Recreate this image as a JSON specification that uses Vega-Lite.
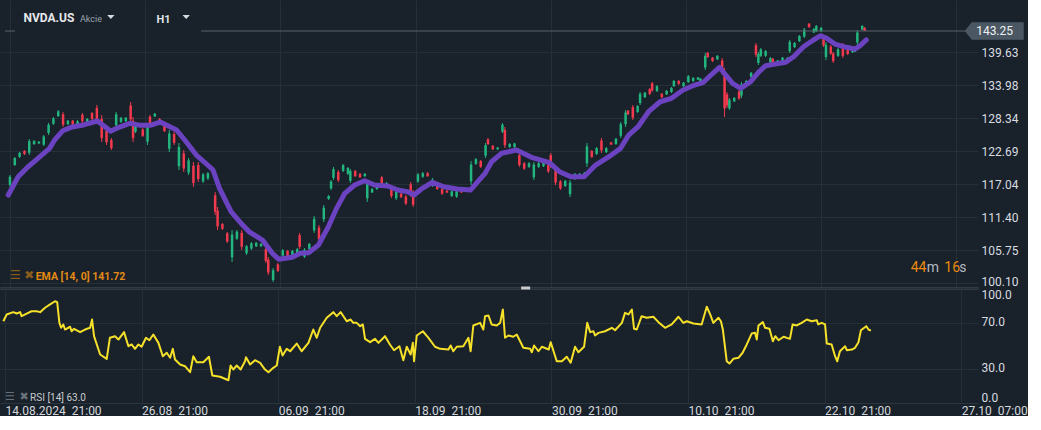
{
  "$schema": "https://vega.github.io/schema/vega-lite/v6.json",
  "padding": 0,
  "bounds": "flush",
  "background": "#19212a",
  "config": {
    "font": "Roboto",
    "view": {"stroke": null},
    "concat": {"spacing": 0},
    "axis": {"gridColor": "#252f38", "gridWidth": 1, "labelColor": "#d5d9dd", "labelFontSize": 12, "ticks": false, "domain": false, "title": null, "minExtent": 0},
    "axisY": {"orient": "right", "grid": true, "labelPadding": 3, "labelColor": "#d8dce0", "labelOverlap": false, "labelBound": false}
  },
  "datasets": {
    "candles": [
      {"i":0,"o":116.9,"h":118.6,"l":116.55,"c":118.3},
      {"i":2,"o":120.3,"h":121.68,"l":120.14,"c":121.5},
      {"i":4,"o":121.7,"h":122.54,"l":121.51,"c":122.4},
      {"i":6,"o":122.7,"h":122.88,"l":122.02,"c":122.2},
      {"i":8,"o":122.4,"h":124.76,"l":122.02,"c":124.4},
      {"i":10,"o":123.9,"h":124.59,"l":123.74,"c":124.4},
      {"i":12,"o":124.0,"h":124.42,"l":123.91,"c":124.3},
      {"i":14,"o":123.8,"h":125.45,"l":123.56,"c":125.2},
      {"i":16,"o":125.8,"h":127.5,"l":125.45,"c":127.2},
      {"i":18,"o":127.4,"h":128.53,"l":127.16,"c":128.3},
      {"i":20,"o":128.7,"h":129.73,"l":128.53,"c":129.5},
      {"i":22,"o":129.0,"h":129.39,"l":126.82,"c":127.2},
      {"i":24,"o":127.3,"h":128.01,"l":127.16,"c":127.9},
      {"i":26,"o":127.9,"h":128.01,"l":127.16,"c":127.3},
      {"i":28,"o":127.0,"h":128.01,"l":126.82,"c":127.8},
      {"i":30,"o":128.9,"h":129.21,"l":127.5,"c":127.8},
      {"i":32,"o":127.6,"h":128.36,"l":127.5,"c":128.2},
      {"i":34,"o":129.2,"h":129.39,"l":128.01,"c":128.2},
      {"i":36,"o":130.1,"h":130.58,"l":127.67,"c":128.1},
      {"i":38,"o":128.2,"h":128.87,"l":124.25,"c":124.9},
      {"i":40,"o":126.2,"h":126.65,"l":123.74,"c":124.2},
      {"i":42,"o":124.6,"h":124.93,"l":122.88,"c":123.2},
      {"i":44,"o":127.1,"h":129.39,"l":126.65,"c":129.0},
      {"i":46,"o":127.7,"h":128.53,"l":127.5,"c":128.4},
      {"i":48,"o":127.8,"h":128.53,"l":127.67,"c":128.4},
      {"i":50,"o":130.5,"h":131.1,"l":127.5,"c":128.1},
      {"i":51,"o":127.9,"h":128.53,"l":124.25,"c":124.9},
      {"i":52,"o":126.0,"h":127.16,"l":125.79,"c":127.0},
      {"i":55,"o":126.4,"h":126.65,"l":125.11,"c":125.3},
      {"i":57,"o":124.3,"h":127.5,"l":123.74,"c":126.9},
      {"i":58,"o":128.6,"h":128.87,"l":127.16,"c":127.4},
      {"i":60,"o":128.6,"h":129.21,"l":128.53,"c":129.1},
      {"i":62,"o":128.2,"h":128.36,"l":127.5,"c":127.6},
      {"i":64,"o":127.0,"h":127.16,"l":125.96,"c":126.1},
      {"i":66,"o":123.1,"h":126.3,"l":122.54,"c":125.7},
      {"i":68,"o":125.6,"h":125.96,"l":123.74,"c":124.1},
      {"i":70,"o":120.1,"h":124.08,"l":119.45,"c":123.4},
      {"i":72,"o":122.3,"h":122.88,"l":119.11,"c":119.7},
      {"i":74,"o":119.0,"h":121.51,"l":118.6,"c":121.1},
      {"i":76,"o":120.2,"h":120.82,"l":116.55,"c":117.2},
      {"i":78,"o":120.3,"h":120.82,"l":117.4,"c":117.9},
      {"i":80,"o":117.5,"h":118.94,"l":117.23,"c":118.7},
      {"i":82,"o":118.0,"h":119.11,"l":117.74,"c":118.9},
      {"i":85,"o":115.1,"h":115.69,"l":111.75,"c":112.3},
      {"i":86,"o":112.5,"h":113.12,"l":109.18,"c":109.8},
      {"i":88,"o":110.2,"h":110.38,"l":109.18,"c":109.4},
      {"i":90,"o":108.6,"h":108.84,"l":106.96,"c":107.2},
      {"i":92,"o":104.5,"h":109.18,"l":103.7,"c":108.4},
      {"i":94,"o":107.7,"h":109.18,"l":107.47,"c":108.9},
      {"i":96,"o":108.7,"h":109.18,"l":105.76,"c":106.3},
      {"i":98,"o":105.2,"h":106.62,"l":104.9,"c":106.4},
      {"i":100,"o":106.0,"h":107.13,"l":105.76,"c":106.9},
      {"i":102,"o":106.4,"h":107.13,"l":106.27,"c":107.0},
      {"i":104,"o":106.4,"h":106.96,"l":106.27,"c":106.8},
      {"i":106,"o":105.9,"h":106.27,"l":103.53,"c":103.9},
      {"i":107,"o":104.1,"h":104.56,"l":101.48,"c":101.9},
      {"i":109,"o":100.6,"h":102.68,"l":100.28,"c":102.3},
      {"i":111,"o":103.3,"h":103.53,"l":101.99,"c":102.2},
      {"i":113,"o":104.8,"h":105.93,"l":104.56,"c":105.7},
      {"i":115,"o":105.6,"h":105.76,"l":104.56,"c":104.7},
      {"i":117,"o":104.9,"h":105.76,"l":104.73,"c":105.6},
      {"i":119,"o":105.2,"h":106.1,"l":105.07,"c":105.9},
      {"i":120,"o":108.3,"h":108.67,"l":105.93,"c":106.3},
      {"i":122,"o":104.6,"h":106.1,"l":104.39,"c":105.8},
      {"i":124,"o":105.9,"h":106.96,"l":105.76,"c":106.8},
      {"i":126,"o":109.1,"h":111.58,"l":108.67,"c":111.1},
      {"i":128,"o":109.6,"h":110.04,"l":107.13,"c":107.6},
      {"i":130,"o":111.0,"h":113.46,"l":110.55,"c":113.0},
      {"i":132,"o":114.5,"h":115.18,"l":114.32,"c":115.0},
      {"i":133,"o":116.3,"h":117.74,"l":116.03,"c":117.5},
      {"i":134,"o":118.1,"h":119.97,"l":117.74,"c":119.6},
      {"i":136,"o":119.1,"h":119.45,"l":117.4,"c":117.7},
      {"i":138,"o":119.3,"h":120.48,"l":119.11,"c":120.3},
      {"i":140,"o":118.8,"h":119.97,"l":118.6,"c":119.8},
      {"i":141,"o":117.6,"h":119.63,"l":117.23,"c":119.3},
      {"i":143,"o":119.3,"h":119.45,"l":118.26,"c":118.4},
      {"i":145,"o":118.8,"h":118.94,"l":118.09,"c":118.2},
      {"i":147,"o":118.4,"h":118.94,"l":118.26,"c":118.8},
      {"i":148,"o":114.6,"h":117.74,"l":113.98,"c":117.1},
      {"i":150,"o":115.6,"h":116.37,"l":115.52,"c":116.2},
      {"i":152,"o":116.2,"h":117.23,"l":116.03,"c":117.0},
      {"i":154,"o":118.2,"h":118.43,"l":116.89,"c":117.1},
      {"i":156,"o":116.7,"h":117.4,"l":116.55,"c":117.2},
      {"i":158,"o":116.5,"h":116.89,"l":114.66,"c":115.0},
      {"i":160,"o":114.6,"h":116.03,"l":114.32,"c":115.8},
      {"i":162,"o":115.4,"h":115.52,"l":114.66,"c":114.8},
      {"i":164,"o":114.9,"h":115.18,"l":113.46,"c":113.7},
      {"i":166,"o":117.0,"h":117.4,"l":114.83,"c":115.2},
      {"i":167,"o":115.6,"h":116.03,"l":113.12,"c":113.5},
      {"i":169,"o":117.5,"h":118.94,"l":117.23,"c":118.7},
      {"i":171,"o":118.3,"h":119.11,"l":118.09,"c":118.9},
      {"i":173,"o":118.9,"h":119.11,"l":118.26,"c":118.4},
      {"i":175,"o":116.8,"h":118.09,"l":116.55,"c":117.8},
      {"i":177,"o":116.9,"h":117.06,"l":116.03,"c":116.2},
      {"i":179,"o":116.2,"h":116.37,"l":115.18,"c":115.4},
      {"i":181,"o":115.9,"h":116.03,"l":115.52,"c":115.6},
      {"i":183,"o":115.0,"h":116.03,"l":114.83,"c":115.8},
      {"i":185,"o":114.9,"h":116.03,"l":114.66,"c":115.8},
      {"i":187,"o":115.9,"h":116.03,"l":115.52,"c":115.6},
      {"i":189,"o":115.8,"h":116.37,"l":115.69,"c":116.3},
      {"i":191,"o":117.5,"h":121.0,"l":116.89,"c":120.4},
      {"i":193,"o":120.5,"h":121.51,"l":120.31,"c":121.3},
      {"i":195,"o":121.0,"h":121.16,"l":119.8,"c":120.0},
      {"i":197,"o":121.9,"h":124.08,"l":121.51,"c":123.7},
      {"i":198,"o":124.7,"h":124.93,"l":123.74,"c":123.9},
      {"i":200,"o":123.6,"h":123.74,"l":122.88,"c":123.0},
      {"i":202,"o":123.0,"h":123.39,"l":122.88,"c":123.3},
      {"i":204,"o":126.0,"h":127.5,"l":125.79,"c":127.2},
      {"i":205,"o":126.3,"h":126.82,"l":123.22,"c":123.7},
      {"i":207,"o":123.4,"h":124.08,"l":123.22,"c":123.9},
      {"i":209,"o":123.4,"h":124.1,"l":123.2,"c":124.0},
      {"i":211,"o":122.0,"h":122.37,"l":119.97,"c":120.3},
      {"i":213,"o":120.6,"h":120.82,"l":119.45,"c":119.7},
      {"i":215,"o":120.0,"h":120.82,"l":119.8,"c":120.6},
      {"i":217,"o":118.2,"h":120.82,"l":117.74,"c":120.4},
      {"i":219,"o":120.0,"h":120.82,"l":119.8,"c":120.6},
      {"i":221,"o":120.1,"h":121.16,"l":119.97,"c":121.0},
      {"i":223,"o":120.4,"h":120.65,"l":118.94,"c":119.2},
      {"i":224,"o":122.0,"h":122.37,"l":119.8,"c":120.2},
      {"i":226,"o":119.5,"h":119.97,"l":116.89,"c":117.3},
      {"i":228,"o":117.5,"h":117.74,"l":116.03,"c":116.3},
      {"i":230,"o":116.7,"h":117.74,"l":116.55,"c":117.6},
      {"i":232,"o":115.3,"h":117.74,"l":114.83,"c":117.3},
      {"i":234,"o":117.9,"h":118.94,"l":117.74,"c":118.8},
      {"i":236,"o":118.2,"h":118.94,"l":118.09,"c":118.8},
      {"i":238,"o":118.4,"h":119.11,"l":118.26,"c":119.0},
      {"i":239,"o":120.6,"h":124.08,"l":119.97,"c":123.5},
      {"i":241,"o":122.7,"h":122.88,"l":121.51,"c":121.7},
      {"i":243,"o":122.2,"h":123.39,"l":122.02,"c":123.2},
      {"i":245,"o":124.5,"h":124.93,"l":122.37,"c":122.8},
      {"i":247,"o":122.5,"h":123.39,"l":122.37,"c":123.2},
      {"i":249,"o":124.2,"h":124.25,"l":123.74,"c":123.8},
      {"i":251,"o":123.9,"h":124.93,"l":123.74,"c":124.8},
      {"i":253,"o":125.3,"h":127.67,"l":124.93,"c":127.3},
      {"i":255,"o":127.3,"h":129.73,"l":126.82,"c":129.3},
      {"i":256,"o":129.6,"h":129.73,"l":128.87,"c":129.0},
      {"i":258,"o":130.2,"h":130.58,"l":128.01,"c":128.4},
      {"i":260,"o":129.4,"h":130.58,"l":129.21,"c":130.4},
      {"i":261,"o":130.9,"h":132.81,"l":130.58,"c":132.5},
      {"i":263,"o":131.9,"h":132.81,"l":131.78,"c":132.7},
      {"i":265,"o":133.3,"h":133.49,"l":132.3,"c":132.5},
      {"i":266,"o":134.3,"h":134.52,"l":132.81,"c":133.1},
      {"i":268,"o":133.0,"h":134.01,"l":132.81,"c":133.8},
      {"i":270,"o":132.5,"h":132.64,"l":131.78,"c":131.9},
      {"i":272,"o":132.4,"h":133.15,"l":132.3,"c":133.0},
      {"i":274,"o":132.8,"h":133.67,"l":132.64,"c":133.5},
      {"i":275,"o":133.8,"h":134.86,"l":133.67,"c":134.7},
      {"i":277,"o":134.7,"h":134.86,"l":134.01,"c":134.2},
      {"i":279,"o":133.8,"h":134.52,"l":133.67,"c":134.4},
      {"i":281,"o":134.5,"h":135.72,"l":134.35,"c":135.5},
      {"i":283,"o":134.7,"h":135.38,"l":134.52,"c":135.2},
      {"i":285,"o":134.9,"h":135.38,"l":134.86,"c":135.3},
      {"i":286,"o":134.6,"h":135.21,"l":134.52,"c":135.1},
      {"i":288,"o":137.0,"h":139.49,"l":136.57,"c":139.0},
      {"i":289,"o":139.5,"h":139.66,"l":138.63,"c":138.8},
      {"i":291,"o":138.7,"h":138.8,"l":137.95,"c":138.1},
      {"i":293,"o":138.4,"h":139.14,"l":138.29,"c":139.0},
      {"i":295,"o":138.2,"h":138.63,"l":135.72,"c":136.2},
      {"i":296,"o":136.0,"h":136.92,"l":128.53,"c":130.0},
      {"i":297,"o":132.4,"h":132.81,"l":130.07,"c":130.5},
      {"i":298,"o":130.0,"h":131.78,"l":129.73,"c":131.5},
      {"i":300,"o":131.2,"h":131.95,"l":131.1,"c":131.8},
      {"i":302,"o":132.9,"h":133.15,"l":131.44,"c":131.7},
      {"i":303,"o":132.2,"h":134.52,"l":131.78,"c":134.1},
      {"i":305,"o":134.1,"h":134.86,"l":134.01,"c":134.7},
      {"i":307,"o":135.4,"h":136.23,"l":135.21,"c":136.1},
      {"i":309,"o":140.8,"h":141.2,"l":138.8,"c":139.2},
      {"i":310,"o":137.8,"h":139.66,"l":137.43,"c":139.3},
      {"i":311,"o":139.0,"h":140.34,"l":138.8,"c":140.1},
      {"i":313,"o":139.0,"h":140.0,"l":138.8,"c":139.8},
      {"i":315,"o":137.9,"h":138.8,"l":137.77,"c":138.6},
      {"i":316,"o":138.5,"h":138.63,"l":137.77,"c":137.9},
      {"i":318,"o":137.9,"h":138.29,"l":137.77,"c":138.2},
      {"i":320,"o":138.1,"h":138.8,"l":137.95,"c":138.7},
      {"i":322,"o":138.1,"h":138.8,"l":137.95,"c":138.6},
      {"i":323,"o":139.8,"h":141.71,"l":139.49,"c":141.4},
      {"i":325,"o":140.5,"h":141.37,"l":140.34,"c":141.2},
      {"i":327,"o":141.5,"h":142.57,"l":141.37,"c":142.4},
      {"i":329,"o":142.3,"h":143.77,"l":142.05,"c":143.5},
      {"i":331,"o":144.5,"h":144.62,"l":143.77,"c":143.9},
      {"i":333,"o":143.0,"h":143.77,"l":142.91,"c":143.6},
      {"i":334,"o":143.2,"h":144.28,"l":143.08,"c":144.1},
      {"i":336,"o":143.2,"h":143.94,"l":143.08,"c":143.8},
      {"i":337,"o":142.0,"h":142.23,"l":140.51,"c":140.8},
      {"i":338,"o":138.8,"h":141.37,"l":138.29,"c":140.9},
      {"i":340,"o":140.6,"h":140.86,"l":139.14,"c":139.4},
      {"i":341,"o":139.4,"h":139.66,"l":137.77,"c":138.1},
      {"i":343,"o":139.0,"h":140.34,"l":138.8,"c":140.1},
      {"i":345,"o":140.8,"h":141.2,"l":138.63,"c":139.0},
      {"i":347,"o":140.2,"h":140.34,"l":139.14,"c":139.3},
      {"i":349,"o":139.6,"h":140.34,"l":139.49,"c":140.2},
      {"i":350,"o":139.7,"h":140.34,"l":139.66,"c":140.2},
      {"i":351,"o":141.3,"h":143.42,"l":140.86,"c":143.0},
      {"i":353,"o":143.5,"h":144.28,"l":143.42,"c":144.1},
      {"i":354,"o":143.8,"h":143.94,"l":143.25,"c":143.25}
    ],
    "ema": [
      {"i":-0.7,"v":115.17},{"i":3.4,"v":118.3},{"i":7.5,"v":120.01},{"i":11.6,"v":121.45},{"i":16.4,"v":123.16},
      {"i":18.5,"v":124.59},{"i":21.9,"v":126.18},{"i":25.3,"v":126.76},{"i":30.8,"v":127.21},{"i":36.2,"v":127.84},
      {"i":39.0,"v":126.98},{"i":41.7,"v":126.08},{"i":45.1,"v":126.76},{"i":49.6,"v":127.45},{"i":54.0,"v":127.1},
      {"i":58.1,"v":127.1},{"i":62.2,"v":127.67},{"i":66.3,"v":126.86},{"i":69.0,"v":126.3},{"i":72.4,"v":124.59},
      {"i":77.2,"v":122.02},{"i":82.7,"v":120.01},{"i":84.1,"v":119.45},{"i":86.8,"v":116.32},{"i":91.6,"v":112.31},
      {"i":96.4,"v":110.03},{"i":99.1,"v":108.88},{"i":104.6,"v":107.46},{"i":108.7,"v":105.18},{"i":111.4,"v":104.16},
      {"i":116.9,"v":104.5},{"i":120.3,"v":105.18},{"i":123.7,"v":105.29},{"i":127.8,"v":106.61},{"i":131.9,"v":109.74},
      {"i":135.3,"v":112.89},{"i":138.7,"v":115.46},{"i":142.8,"v":116.88},{"i":146.9,"v":117.62},{"i":151.0,"v":116.88},
      {"i":156.5,"v":116.71},{"i":160.6,"v":116.02},{"i":164.7,"v":115.73},{"i":167.4,"v":115.17},{"i":170.8,"v":116.32},
      {"i":174.9,"v":117.34},{"i":179.7,"v":116.59},{"i":185.2,"v":116.2},{"i":190.7,"v":116.02},{"i":196.8,"v":118.88},
      {"i":199.5,"v":120.87},{"i":203.6,"v":122.31},{"i":209.8,"v":122.87},{"i":216.0,"v":121.62},{"i":223.5,"v":120.7},
      {"i":227.6,"v":119.16},{"i":232.4,"v":118.3},{"i":237.8,"v":118.3},{"i":242.6,"v":120.3},{"i":248.1,"v":121.73},
      {"i":252.9,"v":123.16},{"i":256.3,"v":125.44},{"i":260.4,"v":126.98},{"i":264.5,"v":129.43},{"i":269.3,"v":131.14},
      {"i":274.0,"v":131.73},{"i":278.8,"v":133.15},{"i":283.6,"v":134.0},{"i":287.0,"v":134.4},{"i":290.4,"v":135.72},
      {"i":293.9,"v":137.03},{"i":295.9,"v":136.01},{"i":299.3,"v":134.29},{"i":302.7,"v":133.44},{"i":306.8,"v":134.57},
      {"i":310.3,"v":136.28},{"i":313.0,"v":137.31},{"i":321.2,"v":137.89},{"i":324.6,"v":138.85},{"i":328.7,"v":140.56},
      {"i":332.8,"v":141.71},{"i":335.8,"v":142.45},{"i":338.3,"v":142.0},{"i":341.7,"v":141.02},{"i":346.5,"v":140.46},
      {"i":349.9,"v":140.17},{"i":351.9,"v":140.68},{"i":354.7,"v":141.72}
    ],
    "rsi": [
      {"i":-0.7,"r":71.1},{"i":0.7,"r":77.0},{"i":3.4,"r":79.0},{"i":4.8,"r":77.8},{"i":6.2,"r":79.0},{"i":6.8,"r":75.5},
      {"i":8.9,"r":77.8},{"i":10.9,"r":79.8},{"i":13.0,"r":79.8},{"i":14.4,"r":79.0},{"i":16.4,"r":82.8},{"i":18.5,"r":85.7},
      {"i":20.5,"r":88.5},{"i":21.4,"r":87.7},{"i":22.3,"r":69.7},{"i":23.0,"r":65.4},{"i":23.9,"r":68.3},{"i":24.6,"r":63.9},
      {"i":26.7,"r":66.3},{"i":27.3,"r":62.4},{"i":28.3,"r":64.5},{"i":30.8,"r":61.6},{"i":32.8,"r":63.9},{"i":34.9,"r":65.4},
      {"i":35.7,"r":72.6},{"i":36.5,"r":58.1},{"i":39.0,"r":42.2},{"i":41.7,"r":38.4},{"i":43.0,"r":56.7},{"i":45.1,"r":58.1},
      {"i":46.5,"r":55.2},{"i":48.8,"r":61.6},{"i":50.6,"r":49.4},{"i":51.9,"r":50.9},{"i":53.3,"r":47.1},{"i":54.7,"r":50.9},
      {"i":56.0,"r":48.9},{"i":57.8,"r":56.7},{"i":59.2,"r":54.6},{"i":60.8,"r":59.6},{"i":62.9,"r":52.3},{"i":64.7,"r":40.7},
      {"i":66.3,"r":43.7},{"i":67.7,"r":39.3},{"i":68.8,"r":47.1},{"i":69.7,"r":37.8},{"i":71.8,"r":33.5},{"i":73.8,"r":32.0},
      {"i":75.9,"r":26.8},{"i":77.2,"r":40.7},{"i":78.6,"r":35.5},{"i":81.3,"r":35.5},{"i":83.6,"r":40.2},{"i":85.0,"r":23.9},
      {"i":88.2,"r":22.8},{"i":91.6,"r":19.8},{"i":92.5,"r":32.6},{"i":93.6,"r":29.1},{"i":95.0,"r":32.6},{"i":96.6,"r":29.1},
      {"i":98.4,"r":36.3},{"i":98.8,"r":39.8},{"i":100.5,"r":33.5},{"i":102.5,"r":37.2},{"i":104.6,"r":34.9},{"i":106.6,"r":29.1},
      {"i":108.0,"r":26.8},{"i":110.0,"r":30.6},{"i":111.4,"r":32.6},{"i":112.7,"r":48.9},{"i":113.8,"r":41.3},{"i":115.5,"r":47.1},
      {"i":116.9,"r":45.0},{"i":119.6,"r":51.7},{"i":121.6,"r":45.0},{"i":124.4,"r":52.3},{"i":126.4,"r":63.9},{"i":127.8,"r":56.7},
      {"i":129.2,"r":65.4},{"i":131.9,"r":74.1},{"i":134.6,"r":79.0},{"i":136.0,"r":75.5},{"i":137.6,"r":79.0},{"i":140.1,"r":71.1},
      {"i":141.7,"r":72.6},{"i":142.8,"r":69.7},{"i":144.2,"r":69.7},{"i":145.6,"r":66.8},{"i":146.7,"r":68.3},{"i":147.6,"r":55.8},
      {"i":149.7,"r":52.9},{"i":151.7,"r":55.8},{"i":153.1,"r":52.3},{"i":155.8,"r":58.1},{"i":157.8,"r":50.9},{"i":159.5,"r":45.9},
      {"i":161.7,"r":49.4},{"i":163.3,"r":37.2},{"i":164.7,"r":48.9},{"i":166.3,"r":42.2},{"i":167.2,"r":52.3},{"i":167.7,"r":36.3},
      {"i":168.8,"r":58.7},{"i":171.3,"r":62.4},{"i":173.6,"r":56.7},{"i":176.3,"r":48.9},{"i":178.4,"r":47.1},{"i":181.8,"r":46.5},
      {"i":182.7,"r":50.0},{"i":183.8,"r":45.0},{"i":185.2,"r":48.9},{"i":187.9,"r":49.4},{"i":190.0,"r":56.7},{"i":190.9,"r":45.0},
      {"i":192.0,"r":67.4},{"i":194.8,"r":69.7},{"i":196.1,"r":63.9},{"i":196.8,"r":75.5},{"i":198.2,"r":76.1},{"i":199.5,"r":68.3},
      {"i":201.6,"r":67.4},{"i":203.0,"r":69.7},{"i":204.1,"r":81.3},{"i":205.0,"r":56.7},{"i":206.4,"r":58.7},{"i":208.4,"r":57.6},
      {"i":209.8,"r":59.6},{"i":212.5,"r":48.0},{"i":215.3,"r":47.1},{"i":216.0,"r":44.2},{"i":216.9,"r":50.0},{"i":218.7,"r":45.0},
      {"i":220.1,"r":48.9},{"i":222.9,"r":46.5},{"i":223.7,"r":52.9},{"i":226.2,"r":36.3},{"i":228.3,"r":36.3},{"i":230.3,"r":40.2},
      {"i":231.9,"r":35.0},{"i":233.7,"r":48.9},{"i":235.1,"r":44.2},{"i":237.4,"r":48.9},{"i":238.7,"r":69.7},{"i":239.9,"r":61.6},
      {"i":241.2,"r":62.4},{"i":241.9,"r":58.7},{"i":243.3,"r":61.0},{"i":246.0,"r":62.4},{"i":248.8,"r":65.4},{"i":250.1,"r":63.3},
      {"i":252.9,"r":69.7},{"i":254.2,"r":78.4},{"i":255.6,"r":77.0},{"i":257.0,"r":81.3},{"i":257.9,"r":64.5},{"i":259.0,"r":63.9},
      {"i":261.0,"r":75.5},{"i":263.1,"r":74.1},{"i":265.8,"r":75.0},{"i":267.9,"r":70.3},{"i":270.6,"r":65.4},{"i":273.3,"r":68.3},
      {"i":276.1,"r":75.0},{"i":278.1,"r":69.7},{"i":279.5,"r":71.1},{"i":282.2,"r":69.1},{"i":285.6,"r":68.3},{"i":287.7,"r":83.7},
      {"i":289.1,"r":77.0},{"i":290.4,"r":69.7},{"i":292.5,"r":74.1},{"i":293.5,"r":71.1},{"i":294.3,"r":63.9},{"i":295.9,"r":36.3},
      {"i":297.0,"r":34.3},{"i":298.6,"r":38.4},{"i":300.7,"r":39.3},{"i":302.4,"r":43.7},{"i":304.1,"r":50.9},{"i":306.1,"r":60.4},
      {"i":307.5,"r":61.0},{"i":308.2,"r":55.2},{"i":308.9,"r":67.4},{"i":310.7,"r":70.3},{"i":311.6,"r":65.4},{"i":313.4,"r":64.5},
      {"i":314.8,"r":53.7},{"i":315.8,"r":58.1},{"i":317.1,"r":54.6},{"i":319.2,"r":57.6},{"i":321.8,"r":55.8},{"i":322.9,"r":68.3},
      {"i":324.6,"r":67.4},{"i":326.6,"r":69.7},{"i":328.7,"r":72.6},{"i":330.7,"r":71.1},{"i":332.8,"r":72.0},{"i":333.4,"r":68.3},
      {"i":334.8,"r":69.7},{"i":336.2,"r":68.3},{"i":336.9,"r":51.7},{"i":338.9,"r":50.9},{"i":340.3,"r":40.7},{"i":341.2,"r":36.3},
      {"i":342.3,"r":45.0},{"i":344.4,"r":49.4},{"i":345.1,"r":45.9},{"i":347.2,"r":46.5},{"i":348.5,"r":48.0},{"i":349.9,"r":52.9},
      {"i":350.9,"r":63.3},{"i":353.1,"r":66.8},{"i":354.0,"r":63.9},{"i":355.0,"r":63.0}
    ]
  },
  "vconcat": [
    {
      "width": 978,
      "height": 288,
      "encoding": {
        "x": {"field": "i", "type": "quantitative", "scale": {"domain": [-2.05, 398.9], "nice": false, "zero": false},
              "axis": {"values": [0, 56, 112, 168, 224, 280, 336, 392], "labels": false, "grid": true, "domain": true, "domainColor": "#4c545b", "domainWidth": 2}},
        "y": {"type": "quantitative", "scale": {"domain": [99.25, 148.56], "nice": false, "zero": false},
              "axis": {"values": [100.10, 105.75, 111.40, 117.04, 122.69, 128.34, 133.98, 139.63], "format": ".2f",
                       "labelOffset": {"condition": {"test": "datum.value < 101", "value": -1.5}, "value": 0}}}
      },
      "layer": [
        {
          "data": {"name": "candles"},
          "mark": {"type": "rule", "strokeWidth": 1},
          "encoding": {
            "y": {"field": "l", "type": "quantitative", "scale": {"domain": [99.25, 148.56], "nice": false, "zero": false},
                  "axis": {"values": [100.10, 105.75, 111.40, 117.04, 122.69, 128.34, 133.98, 139.63], "format": ".2f",
                           "labelOffset": {"condition": {"test": "datum.value < 101", "value": -1.5}, "value": 0}}},
            "y2": {"field": "h"},
            "color": {"condition": {"test": "datum.c >= datum.o", "value": "#22b57f"}, "value": "#f23a4e"}
          }
        },
        {
          "data": {"name": "candles"},
          "mark": {"type": "bar"},
          "encoding": {
            "y": {"field": "o", "type": "quantitative", "scale": {"domain": [99.25, 148.56], "nice": false, "zero": false},
                  "axis": {"values": [100.10, 105.75, 111.40, 117.04, 122.69, 128.34, 133.98, 139.63], "format": ".2f",
                           "labelOffset": {"condition": {"test": "datum.value < 101", "value": -1.5}, "value": 0}}},
            "y2": {"field": "c"},
            "size": {"value": 2.5},
            "color": {"condition": {"test": "datum.c >= datum.o", "value": "#22b57f"}, "value": "#f23a4e"}
          }
        },
        {
          "data": {"name": "ema"},
          "mark": {"type": "line", "strokeWidth": 5, "color": "#6b43c0", "strokeCap": "round", "strokeJoin": "round"},
          "encoding": {"y": {"field": "v"}}
        },
        {
          "data": {"values": [{"i": -2.05, "i2": 2.1, "p": 143.25}, {"i": 79.2, "i2": 396.6, "p": 143.25}]},
          "mark": {"type": "rule", "color": "#5a636b", "strokeWidth": 1},
          "encoding": {"x2": {"field": "i2"}, "y": {"field": "p"}}
        },
        {
          "data": {"values": [{"i": 407.7, "p": 143.25}]},
          "mark": {"type": "point", "filled": true, "opacity": 1, "color": "#4b5864", "size": 3481, "shape": "M-1,0L-0.763,-0.293L1,-0.293L1,0.293L-0.763,0.293Z"},
          "encoding": {"y": {"field": "p"}}
        },
        {
          "data": {"values": [{"i": 400.2, "p": 143.25, "t": "143.25"}]},
          "mark": {"type": "text", "align": "left", "baseline": "middle", "fontSize": 12, "color": "#eef1f3"},
          "encoding": {"y": {"field": "p"}, "text": {"field": "t"}}
        },
        {
          "data": {"values": [{"i": 5.6, "p": 145.48, "t": "NVDA.US"}]},
          "mark": {"type": "text", "align": "left", "baseline": "middle", "fontSize": 12, "fontWeight": "bold", "color": "#e6e9ec"},
          "encoding": {"y": {"field": "p"}, "text": {"field": "t"}}
        },
        {
          "data": {"values": [{"i": 29.0, "p": 145.3, "t": "Akcie"}]},
          "mark": {"type": "text", "align": "left", "baseline": "middle", "fontSize": 9, "color": "#9aa4ad"},
          "encoding": {"y": {"field": "p"}, "text": {"field": "t"}}
        },
        {
          "data": {"values": [{"i": 60.7, "p": 145.14, "t": "H1"}]},
          "mark": {"type": "text", "align": "left", "baseline": "middle", "fontSize": 11, "fontWeight": "bold", "color": "#dfe3e6"},
          "encoding": {"y": {"field": "p"}, "text": {"field": "t"}}
        },
        {
          "data": {"values": [{"i": 41.8, "p": 145.65}, {"i": 73.0, "p": 145.65}]},
          "mark": {"type": "point", "filled": true, "opacity": 1, "color": "#d6dadd", "size": 55, "shape": "M-1,-0.55L1,-0.55L0,0.55Z"},
          "encoding": {"y": {"field": "p"}}
        },
        {
          "data": {"values": [{"i": 0, "p": 101.4, "t": "☰"}, {"i": 5.9, "p": 101.4, "t": "✖"}]},
          "mark": {"type": "text", "align": "left", "baseline": "middle", "fontSize": 12, "fontWeight": "bold", "color": "#8a5d1c", "font": "DejaVu Sans"},
          "encoding": {"y": {"field": "p"}, "text": {"field": "t"}}
        },
        {
          "data": {"values": [{"i": 10.66, "p": 101.19, "t": "EMA [14, 0] 141.72"}]},
          "mark": {"type": "text", "align": "left", "baseline": "middle", "fontSize": 10.5, "fontWeight": "bold", "color": "#e38a14"},
          "encoding": {"y": {"field": "p"}, "text": {"field": "t"}}
        },
        {
          "data": {"values": [{"i": 373.1, "p": 102.68, "t": "44"}, {"i": 387.0, "p": 102.68, "t": "16"}]},
          "mark": {"type": "text", "align": "left", "baseline": "middle", "fontSize": 14, "color": "#ea8a0e"},
          "encoding": {"y": {"field": "p"}, "text": {"field": "t"}}
        },
        {
          "data": {"values": [{"i": 379.7, "p": 102.68, "t": "m"}, {"i": 393.2, "p": 102.68, "t": "s"}]},
          "mark": {"type": "text", "align": "left", "baseline": "middle", "fontSize": 14, "color": "#b3bbc2"},
          "encoding": {"y": {"field": "p"}, "text": {"field": "t"}}
        }
      ]
    },
    {
      "width": 978,
      "height": 115,
      "encoding": {
        "x": {"field": "i", "type": "quantitative", "scale": {"domain": [-2.05, 398.9], "nice": false, "zero": false},
              "axis": {"values": [0, 56, 112, 168, 224, 280, 336, 392], "grid": true, "domain": true, "domainColor": "#2b353e",
                       "labelAlign": "left", "labelPadding": 2, "labelFlush": false, "labelOverlap": false, "labelBound": false, "labelColor": "#d5d9dd",
                       "labelExpr": "datum.value == 0 ? '14.08.2024\u00a0\u00a021:00' : datum.value == 56 ? '26.08\u00a0\u00a021:00' : datum.value == 112 ? '06.09\u00a0\u00a021:00' : datum.value == 168 ? '18.09\u00a0\u00a021:00' : datum.value == 224 ? '30.09\u00a0\u00a021:00' : datum.value == 280 ? '10.10\u00a0\u00a021:00' : datum.value == 336 ? '22.10\u00a0\u00a021:00' : '27.10\u00a0\u00a007:00'"}},
        "y": {"type": "quantitative", "scale": {"domain": [0, 100], "nice": false, "zero": false},
              "axis": {"values": [0, 30, 70, 100], "labelFlush": false, "labelOverlap": false, "labelBound": false,
                       "labelExpr": "datum.value >= 100 ? '100.0' : datum.value >= 70 ? '70.0' : datum.value >= 30 ? '30.0' : '0.0'",
                       "labelBaseline": {"condition": {"test": "datum.value >= 100", "value": "top"}, "value": "bottom"},
                       "labelOffset": {"condition": {"test": "datum.value > 1 && datum.value < 99", "value": 6}, "value": 1}}}
      },
      "layer": [
        {
          "data": {"name": "rsi"},
          "mark": {"type": "line", "color": "#f5e02a", "strokeWidth": 2, "strokeJoin": "round"},
          "encoding": {"y": {"field": "r"}}
        },
        {
          "data": {"values": [{"i": 211.6, "i2": 215.3, "r": 100}]},
          "mark": {"type": "rule", "color": "#c9cbcd", "strokeWidth": 3},
          "encoding": {"x2": {"field": "i2"}, "y": {"field": "r"}}
        },
        {
          "data": {"values": [{"i": 0, "r": 5.4, "t": "☰"}, {"i": 5.9, "r": 5.4, "t": "✖"}]},
          "mark": {"type": "text", "align": "left", "baseline": "middle", "fontSize": 11, "fontWeight": "bold", "color": "#68717a", "font": "DejaVu Sans"},
          "encoding": {"y": {"field": "r"}, "text": {"field": "t"}}
        },
        {
          "data": {"values": [{"i": 10.3, "r": 4.5, "t": "RSI [14] 63.0"}]},
          "mark": {"type": "text", "align": "left", "baseline": "middle", "fontSize": 10, "color": "#c8ccd0"},
          "encoding": {"y": {"field": "r"}, "text": {"field": "t"}}
        }
      ]
    }
  ]
}
